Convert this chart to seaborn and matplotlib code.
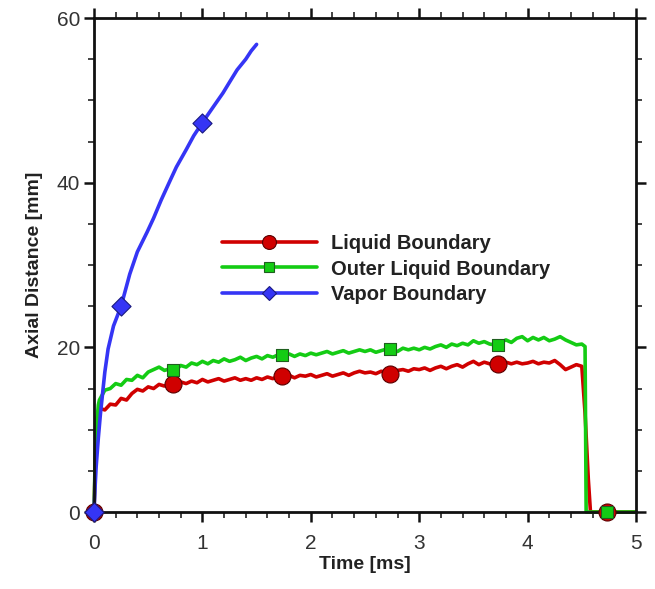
import matplotlib
matplotlib.use("Agg")
import matplotlib.pyplot as plt
from matplotlib.lines import Line2D
from matplotlib.ticker import MultipleLocator
import seaborn as sns
import pandas as pd

# ---------------- data ----------------
vapor_t = [0.0, 0.01, 0.02, 0.04, 0.06, 0.08, 0.10, 0.13, 0.18, 0.25, 0.33, 0.40,
           0.49, 0.55, 0.62, 0.70, 0.76, 0.85, 0.92, 1.00, 1.10, 1.19, 1.25, 1.32,
           1.40, 1.45, 1.50]
vapor_y = [0.0, 3.0, 5.5, 9.0, 12.0, 14.5, 17.0, 19.8, 22.6, 25.0, 28.9, 31.6,
           34.0, 35.7, 37.9, 40.2, 41.9, 44.0, 45.7, 47.3, 49.2, 50.9, 52.2, 53.7,
           55.0, 56.0, 56.8]

liquid_t = [0.0, 0.01, 0.02, 0.03,
            0.05, 0.10, 0.15, 0.20, 0.25, 0.30, 0.35, 0.40, 0.45, 0.50,
            0.55, 0.60, 0.65, 0.70, 0.75, 0.80, 0.85, 0.90, 0.95, 1.00,
            1.05, 1.10, 1.15, 1.20, 1.25, 1.30, 1.35, 1.40, 1.45, 1.50,
            1.55, 1.60, 1.65, 1.70, 1.75, 1.80, 1.85, 1.90, 1.95, 2.00,
            2.05, 2.10, 2.15, 2.20, 2.25, 2.30, 2.35, 2.40, 2.45, 2.50,
            2.55, 2.60, 2.65, 2.70, 2.75, 2.80, 2.85, 2.90, 2.95, 3.00,
            3.05, 3.10, 3.15, 3.20, 3.25, 3.30, 3.35, 3.40, 3.45, 3.50,
            3.55, 3.60, 3.65, 3.70, 3.75, 3.80, 3.85, 3.90, 3.95, 4.00,
            4.05, 4.10, 4.15, 4.20, 4.25, 4.30, 4.35, 4.40, 4.45, 4.50,
            4.53, 4.56, 4.58, 5.00]
liquid_y = [0.0, 5.0, 9.0, 11.5,
            12.6, 12.4, 13.1, 13.0, 13.8, 13.6, 14.4, 14.9, 14.7, 15.2,
            15.0, 15.5, 15.3, 15.6, 15.4, 15.8, 15.6, 15.9, 15.7, 16.1,
            15.8, 16.0, 16.2, 15.9, 16.1, 16.3, 16.0, 16.2, 16.0, 16.3,
            16.1, 16.4, 16.2, 16.5, 16.4, 16.6, 16.3, 16.6, 16.5, 16.7,
            16.4, 16.6, 16.8, 16.5, 16.7, 16.9, 16.6, 16.9, 17.1, 16.9,
            17.0, 16.8, 17.1, 16.9, 16.8, 17.2, 17.3, 17.1, 17.4, 17.3,
            17.5, 17.2, 17.5, 17.7, 17.4, 17.7, 17.9, 17.6, 18.0, 18.3,
            17.9, 18.2, 18.0, 18.1, 17.9, 18.2, 18.0, 18.2, 18.0, 18.1,
            18.3, 18.0, 18.2, 18.1, 18.4, 17.9, 17.3, 17.6, 17.9, 17.7,
            12.0, 4.0, 0.0, 0.0]

outer_t = [0.0, 0.01, 0.02, 0.04,
           0.05, 0.10, 0.15, 0.20, 0.25, 0.30, 0.35, 0.40, 0.45, 0.50,
           0.55, 0.60, 0.65, 0.70, 0.75, 0.80, 0.85, 0.90, 0.95, 1.00,
           1.05, 1.10, 1.15, 1.20, 1.25, 1.30, 1.35, 1.40, 1.45, 1.50,
           1.55, 1.60, 1.65, 1.70, 1.75, 1.80, 1.85, 1.90, 1.95, 2.00,
           2.05, 2.10, 2.15, 2.20, 2.25, 2.30, 2.35, 2.40, 2.45, 2.50,
           2.55, 2.60, 2.65, 2.70, 2.75, 2.80, 2.85, 2.90, 2.95, 3.00,
           3.05, 3.10, 3.15, 3.20, 3.25, 3.30, 3.35, 3.40, 3.45, 3.50,
           3.55, 3.60, 3.65, 3.70, 3.75, 3.80, 3.85, 3.90, 3.95, 4.00,
           4.05, 4.10, 4.15, 4.20, 4.25, 4.30, 4.35, 4.40, 4.45, 4.50,
           4.53, 4.54, 5.00]
outer_y = [0.0, 6.0, 10.0, 13.0,
           13.6, 14.8, 15.0, 15.6, 15.4, 16.1, 16.0, 16.6, 16.3, 17.0,
           17.3, 17.6, 17.2, 17.4, 17.2, 17.8, 17.6, 18.1, 17.9, 18.3,
           18.0, 18.4, 18.2, 18.6, 18.3, 18.5, 18.8, 18.4, 18.7, 18.9,
           18.6, 19.0, 18.8, 19.1, 19.0, 19.2, 18.9, 19.2, 19.0, 19.3,
           19.1, 19.3, 19.5, 19.2, 19.4, 19.6, 19.3, 19.5, 19.7, 19.5,
           19.7, 19.4, 19.6, 19.8, 19.7, 19.5, 19.9, 19.7, 19.9, 19.7,
           20.0, 19.8, 20.1, 20.3, 20.0, 20.4, 20.2, 20.5, 20.3, 20.8,
           20.5, 20.7, 20.4, 20.3, 20.6, 20.9, 20.6, 21.1, 21.3, 20.8,
           21.2, 20.9, 21.2, 20.8, 21.0, 21.3, 20.9, 20.6, 20.3, 20.4,
           20.1, 0.0, 0.0]

liquid_mark_t = [0.0, 0.73, 1.73, 2.73, 3.73, 4.73]
liquid_mark_y = [0.0, 15.5, 16.5, 16.8, 18.0, 0.0]
outer_mark_t = [0.73, 1.73, 2.73, 3.73, 4.73]
outer_mark_y = [17.3, 19.1, 19.8, 20.3, 0.0]
vapor_mark_t = [0.0, 0.25, 1.0]
vapor_mark_y = [0.0, 25.0, 47.3]

labels = ["Liquid Boundary", "Outer Liquid Boundary", "Vapor Boundary"]
x_ticks = [0, 1, 2, 3, 4, 5]
y_ticks = [0, 20, 40, 60]

# ---------------- style ----------------
sns.set_theme(style="white")
plt.rcParams["font.family"] = ["Liberation Sans", "DejaVu Sans"]

RED = "#D00000"
GREEN = "#14CC14"
BLUE = "#3535F5"

fig = plt.figure(figsize=(6.55, 5.89), dpi=100)
ax = fig.add_axes([0.1435, 0.1307, 0.8275, 0.8387])

df_liq = pd.DataFrame({"t": liquid_t, "y": liquid_y})
df_out = pd.DataFrame({"t": outer_t, "y": outer_y})
df_vap = pd.DataFrame({"t": vapor_t, "y": vapor_y})

lw = 2.6
sns.lineplot(data=df_liq, x="t", y="y", ax=ax, color=RED, lw=lw,
             estimator=None, sort=False, clip_on=False)
sns.lineplot(data=df_out, x="t", y="y", ax=ax, color=GREEN, lw=lw,
             estimator=None, sort=False, clip_on=False)
sns.lineplot(data=df_vap, x="t", y="y", ax=ax, color=BLUE, lw=lw,
             estimator=None, sort=False, clip_on=False)

sns.scatterplot(x=liquid_mark_t, y=liquid_mark_y, ax=ax, marker="o", s=150,
                color=RED, edgecolor="#5a0000", linewidth=0.8, clip_on=False, zorder=5)
sns.scatterplot(x=outer_mark_t, y=outer_mark_y, ax=ax, marker="s", s=70,
                color=GREEN, edgecolor="#1f5f1f", linewidth=0.8, clip_on=False, zorder=6)
sns.scatterplot(x=vapor_mark_t, y=vapor_mark_y, ax=ax, marker="D", s=95,
                color=BLUE, edgecolor="#1a1a80", linewidth=0.8, clip_on=False, zorder=7)

ax.set_xlim(0, 5)
ax.set_ylim(0, 60)
ax.set_xticks(x_ticks)
ax.set_yticks(y_ticks)
ax.xaxis.set_minor_locator(MultipleLocator(0.2))
ax.yaxis.set_minor_locator(MultipleLocator(5))
ax.tick_params(which="both", direction="out", top=True, right=True,
               labeltop=False, labelright=False, color="#111111",
               bottom=True, left=True)
ax.tick_params(which="major", length=7, width=1.8, labelsize=15,
               labelcolor="#333333", pad=3)
ax.tick_params(axis="x", which="major", pad=9)
ax.tick_params(which="minor", length=4, width=1.1)
for sp in ax.spines.values():
    sp.set_visible(True)
    sp.set_color("#111111")
    sp.set_linewidth(2.0)

ax.set_xlabel("Time [ms]", fontsize=14, fontweight="bold", color="#222222", labelpad=2)
ax.set_ylabel("Axial Distance [mm]", fontsize=14, fontweight="bold", color="#222222", labelpad=10)

handles = [
    Line2D([], [], color=RED, lw=2.6, marker="o", markersize=10,
           markerfacecolor=RED, markeredgecolor="#5a0000", markeredgewidth=0.8),
    Line2D([], [], color=GREEN, lw=2.6, marker="s", markersize=7,
           markerfacecolor=GREEN, markeredgecolor="#1f5f1f", markeredgewidth=0.8),
    Line2D([], [], color=BLUE, lw=2.6, marker="D", markersize=7.5,
           markerfacecolor=BLUE, markeredgecolor="#1a1a80", markeredgewidth=0.8),
]
leg = ax.legend(handles, labels, loc="upper left", bbox_to_anchor=(0.236, 0.563),
                frameon=False, borderpad=0, borderaxespad=0, handlelength=4.7,
                handletextpad=0.7, labelspacing=0.33,
                prop={"weight": "bold", "size": 14.5})
for txt in leg.get_texts():
    txt.set_color("#222222")

fig.savefig("out.png", dpi=100)
